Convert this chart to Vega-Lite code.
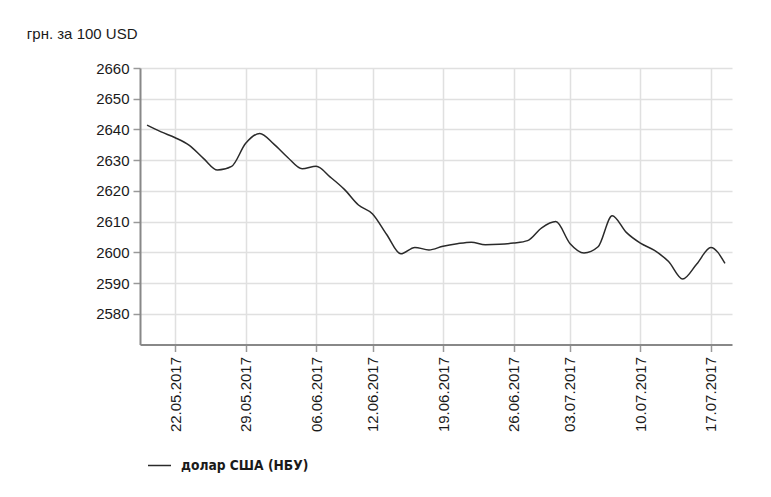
{
  "$schema": "https://vega.github.io/schema/vega-lite/v6.json",
  "width": 592,
  "height": 276.5,
  "autosize": {"type": "none"},
  "padding": {"left": 140, "top": 68, "right": 39, "bottom": 152.5},
  "background": "#ffffff",
  "config": {
    "view": {"stroke": null},
    "font": "Liberation Sans"
  },
  "data": {
    "values": [
      {"date": "18.05.2017", "rate": 2641.4},
      {"date": "19.05.2017", "rate": 2639.2},
      {"date": "22.05.2017", "rate": 2637.3},
      {"date": "23.05.2017", "rate": 2634.8},
      {"date": "24.05.2017", "rate": 2630.6},
      {"date": "25.05.2017", "rate": 2626.8},
      {"date": "26.05.2017", "rate": 2628.0},
      {"date": "29.05.2017", "rate": 2635.5},
      {"date": "30.05.2017", "rate": 2638.7},
      {"date": "31.05.2017", "rate": 2635.2},
      {"date": "01.06.2017", "rate": 2630.8},
      {"date": "02.06.2017", "rate": 2627.2},
      {"date": "06.06.2017", "rate": 2628.0},
      {"date": "07.06.2017", "rate": 2624.5},
      {"date": "08.06.2017", "rate": 2620.5},
      {"date": "09.06.2017", "rate": 2615.4},
      {"date": "12.06.2017", "rate": 2612.5},
      {"date": "13.06.2017", "rate": 2605.8},
      {"date": "14.06.2017", "rate": 2599.5},
      {"date": "15.06.2017", "rate": 2601.6},
      {"date": "16.06.2017", "rate": 2600.8},
      {"date": "19.06.2017", "rate": 2602.0},
      {"date": "20.06.2017", "rate": 2602.8},
      {"date": "21.06.2017", "rate": 2603.3},
      {"date": "22.06.2017", "rate": 2602.5},
      {"date": "23.06.2017", "rate": 2602.6},
      {"date": "26.06.2017", "rate": 2603.0},
      {"date": "27.06.2017", "rate": 2603.8},
      {"date": "29.06.2017", "rate": 2608.0},
      {"date": "30.06.2017", "rate": 2610.0},
      {"date": "03.07.2017", "rate": 2602.9},
      {"date": "04.07.2017", "rate": 2599.8},
      {"date": "05.07.2017", "rate": 2601.8},
      {"date": "06.07.2017", "rate": 2611.9},
      {"date": "07.07.2017", "rate": 2606.5},
      {"date": "10.07.2017", "rate": 2603.0},
      {"date": "11.07.2017", "rate": 2600.6},
      {"date": "12.07.2017", "rate": 2597.0},
      {"date": "13.07.2017", "rate": 2591.3},
      {"date": "14.07.2017", "rate": 2596.2},
      {"date": "17.07.2017", "rate": 2601.6},
      {"date": "18.07.2017", "rate": 2596.4}
    ]
  },
  "mark": {"type": "line", "interpolate": "monotone", "strokeWidth": 1.5},
  "encoding": {
    "x": {
      "field": "date",
      "type": "ordinal",
      "sort": null,
      "scale": {"type": "point", "padding": 0.5},
      "axis": {
        "title": null,
        "values": ["22.05.2017", "29.05.2017", "06.06.2017", "12.06.2017", "19.06.2017", "26.06.2017", "03.07.2017", "10.07.2017", "17.07.2017"],
        "labelAngle": -90,
        "labelAlign": "right",
        "labelBaseline": "middle",
        "labelFontSize": 15,
        "labelColor": "#1a1a1a",
        "labelPadding": 5,
        "tickSize": 7,
        "tickColor": "#999999",
        "tickWidth": 1.5,
        "domainColor": "#888888",
        "domainWidth": 2,
        "grid": true,
        "gridColor": "#e0e0e0",
        "gridWidth": 1.5
      }
    },
    "y": {
      "field": "rate",
      "type": "quantitative",
      "scale": {"domain": [2570, 2660], "nice": false, "zero": false},
      "axis": {
        "title": "грн. за 100 USD",
        "titleAngle": 0,
        "titleAlign": "right",
        "titleBaseline": "alphabetic",
        "titleX": -3,
        "titleY": -30,
        "titleFontSize": 15,
        "titleFontWeight": "normal",
        "titleColor": "#1a1a1a",
        "values": [2580, 2590, 2600, 2610, 2620, 2630, 2640, 2650, 2660],
        "format": "d",
        "labelFontSize": 15,
        "labelColor": "#1a1a1a",
        "labelPadding": 4,
        "tickSize": 7,
        "tickColor": "#999999",
        "tickWidth": 1.5,
        "domainColor": "#888888",
        "domainWidth": 2,
        "grid": true,
        "gridColor": "#e0e0e0",
        "gridWidth": 1.5
      }
    },
    "color": {
      "datum": "долар США (НБУ)",
      "scale": {"range": ["#2a2a2a"]},
      "legend": {
        "title": null,
        "orient": "none",
        "legendX": 7,
        "legendY": 385,
        "symbolType": "stroke",
        "symbolSize": 529,
        "symbolStrokeWidth": 1.5,
        "labelFont": "DejaVu Sans Condensed",
        "labelFontWeight": "bold",
        "labelFontSize": 13.7,
        "labelColor": "#1a1a1a",
        "labelOffset": 9
      }
    }
  }
}
